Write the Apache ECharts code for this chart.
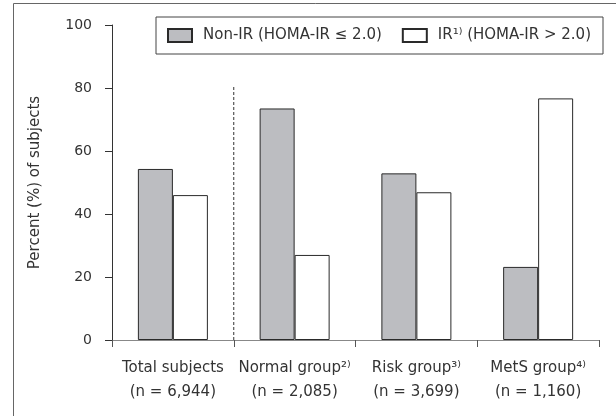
<!DOCTYPE html>
<html>
<head>
<meta charset="utf-8">
<script src="https://cdn.jsdelivr.net/npm/echarts@6/dist/echarts.min.js"></script>
<style>
  html, body { margin: 0; padding: 0; background: #fff; }
  #chart { width: 616px; height: 416px; }
</style>
</head>
<body>
<div id="chart"></div>
<script>
// groups, their n and footnote marks
const groups = ["Total subjects", "Normal group", "Risk group", "MetS group"];
const groupNotes = ["", "²⁾", "³⁾", "⁴⁾"];
const groupN = ["6,944", "2,085", "3,699", "1,160"];

// percent of subjects in each group
const nonIR = [54.3, 73.5, 52.9, 23.2];
const ir = [46.0, 27.0, 46.9, 76.7];

const yTicks = { min: 0, max: 100, interval: 20 };
// dashed separator between total and the subgroups (x in category units, y in %)
const separator = [[1, 0], [1, 80.5]];

const FONT = "DejaVu Sans";
const TXT = "#333";

let chart = echarts.init(document.getElementById("chart"));

let option = {
    animation: false,
    backgroundColor: "#fff",
    textStyle: { fontFamily: FONT, color: TXT },
    // outer frame (only left and top edges visible in the original)
    graphic: [{
        type: "rect",
        shape: { x: 13.5, y: 3.5, width: 700, height: 500 },
        style: { fill: "none", stroke: "#666", lineWidth: 1 },
        silent: true
    }],
    grid: { left: 112, right: 17, top: 25, bottom: 76 },
    legend: {
        left: 156,
        top: 17,
        padding: [11, 12, 11, 11],
        borderColor: "#444",
        borderWidth: 1,
        icon: "rect",
        itemWidth: 24,
        itemHeight: 13,
        itemGap: 20,
        textStyle: {
            fontFamily: FONT,
            fontSize: 15,
            color: TXT,
            padding: [0, 0, 0, 6]
        },
        formatter: function (name) {
            if (name === "IR") return "IR¹⁾ (HOMA-IR > 2.0)";
            return "Non-IR (HOMA-IR ≤ 2.0)";
        },
        data: ["Non-IR", "IR"]
    },
    xAxis: [{
        type: "category",
        data: groups,
        axisLine: { lineStyle: { color: "#888", width: 1 } },
        axisTick: { show: true, length: 7, lineStyle: { color: "#555" } },
        axisLabel: {
            margin: 16,
            interval: 0,
            lineHeight: 24,
            color: TXT,
            fontFamily: FONT,
            fontSize: 15,
            formatter: function (value, idx) {
                return value + groupNotes[idx] + "\n(n = " + groupN[idx] + ")";
            }
        }
    }, {
        // hidden linear axis, used to place the dashed separator
        type: "value",
        min: 0,
        max: 4,
        show: false
    }],
    yAxis: {
        type: "value",
        min: yTicks.min,
        max: yTicks.max,
        interval: yTicks.interval,
        name: "Percent (%) of subjects",
        nameLocation: "middle",
        nameGap: 69,
        nameTextStyle: { fontFamily: FONT, fontSize: 15, color: TXT },
        axisLine: { show: true, lineStyle: { color: "#333", width: 1 } },
        axisTick: { show: true, length: 7, lineStyle: { color: "#333" } },
        axisLabel: { margin: 20, fontFamily: FONT, fontSize: 14, color: TXT },
        splitLine: { show: false }
    },
    series: [{
        name: "Non-IR",
        type: "bar",
        data: nonIR,
        barWidth: 35,
        barGap: "0%",
        itemStyle: { color: "#bcbdc1", borderColor: "#2a2a2a", borderWidth: 1 }
    }, {
        name: "IR",
        type: "bar",
        data: ir,
        barWidth: 35,
        barGap: "0%",
        itemStyle: { color: "#ffffff", borderColor: "#2a2a2a", borderWidth: 1 }
    }, {
        name: "sep",
        type: "line",
        xAxisIndex: 1,
        data: separator,
        symbol: "none",
        silent: true,
        lineStyle: { color: "#333", width: 1, type: [3, 2] }
    }]
};

chart.setOption(option);
</script>
</body>
</html>
